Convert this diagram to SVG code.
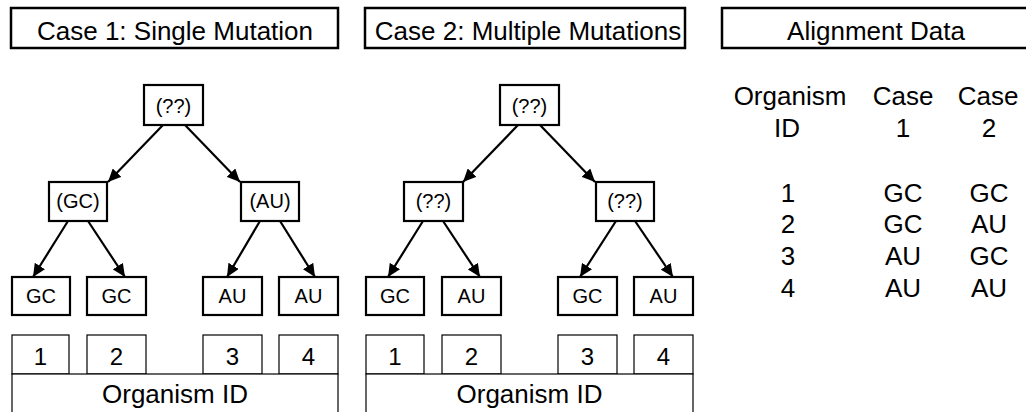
<svg xmlns="http://www.w3.org/2000/svg" width="1026" height="412" viewBox="0 0 1026 412">
<style>
text{font-family:"Liberation Sans",Arial,sans-serif;fill:#000;text-anchor:middle}
.hdr{fill:#fff;stroke:#000;stroke-width:2.5}
.nd{fill:#fff;stroke:#000;stroke-width:2.2}
.num{fill:#fff;stroke:#000;stroke-width:1.2}
.t26{font-size:26px}
.t20{font-size:20px}
.t24{font-size:24px}
.edge{stroke:#000;stroke-width:2.2;fill:none;marker-end:url(#ah)}
</style>
<defs>
<marker id="ah" markerUnits="userSpaceOnUse" markerWidth="14" markerHeight="12" refX="13" refY="6" orient="auto">
<path d="M0,0 L13,6 L0,12 Z" fill="#000"/>
</marker>
</defs>
<rect width="1026" height="412" fill="#fff"/>

<g id="header1"><rect class="hdr" x="11" y="8" width="327" height="40"/><text class="t26" x="175" y="40">Case 1: Single Mutation</text></g>
<g id="header2"><rect class="hdr" x="365" y="8" width="320" height="40"/><text class="t26" x="528" y="40">Case 2: Multiple Mutations</text></g>
<g id="header3"><rect class="hdr" x="722" y="8" width="320" height="40"/><text class="t26" x="876" y="40">Alignment Data</text></g>

<g id="connectors">
<line class="edge" x1="163" y1="125" x2="108" y2="182"/>
<line class="edge" x1="185" y1="125" x2="240" y2="182"/>
<line class="edge" x1="68" y1="221" x2="33" y2="277"/>
<line class="edge" x1="88" y1="221" x2="125" y2="277"/>
<line class="edge" x1="260" y1="221" x2="227" y2="277"/>
<line class="edge" x1="280" y1="221" x2="315" y2="277"/>
<line class="edge" x1="518" y1="125" x2="463" y2="182"/>
<line class="edge" x1="540" y1="125" x2="595" y2="182"/>
<line class="edge" x1="423" y1="221" x2="388" y2="277"/>
<line class="edge" x1="443" y1="221" x2="480" y2="277"/>
<line class="edge" x1="616" y1="221" x2="580" y2="277"/>
<line class="edge" x1="635" y1="221" x2="673" y2="277"/>
</g>

<g id="t1-root"><rect class="nd" x="144" y="85" width="59" height="40"/><text class="t20" x="173.5" y="113">(??)</text></g>
<g id="t1-gc"><rect class="nd" x="49" y="182" width="58" height="39"/><text class="t20" x="78" y="208">(GC)</text></g>
<g id="t1-au"><rect class="nd" x="241" y="182" width="58" height="39"/><text class="t20" x="270" y="208">(AU)</text></g>
<g id="t1-leaf1"><rect class="nd" x="12" y="277" width="58" height="38"/><text class="t20" x="41" y="303">GC</text></g>
<g id="t1-leaf2"><rect class="nd" x="87" y="277" width="59" height="38"/><text class="t20" x="116.5" y="303">GC</text></g>
<g id="t1-leaf3"><rect class="nd" x="203" y="277" width="59" height="38"/><text class="t20" x="232.5" y="303">AU</text></g>
<g id="t1-leaf4"><rect class="nd" x="279" y="277" width="59" height="38"/><text class="t20" x="308.5" y="303">AU</text></g>
<g id="t1-ids">
<rect class="num" x="12" y="335" width="57" height="39"/><text class="t24" x="40.5" y="365">1</text>
<rect class="num" x="87" y="335" width="59" height="39"/><text class="t24" x="116.5" y="365">2</text>
<rect class="num" x="203" y="335" width="59" height="39"/><text class="t24" x="232.5" y="365">3</text>
<rect class="num" x="279" y="335" width="59" height="39"/><text class="t24" x="308.5" y="365">4</text>
<rect class="num" x="12" y="374" width="326" height="50"/><text class="t26" x="175" y="403">Organism ID</text>
</g>

<g id="t2-root"><rect class="nd" x="500" y="85" width="59" height="40"/><text class="t20" x="529.5" y="113">(??)</text></g>
<g id="t2-left"><rect class="nd" x="404" y="182" width="59" height="39"/><text class="t20" x="433.5" y="208">(??)</text></g>
<g id="t2-right"><rect class="nd" x="596" y="182" width="58" height="39"/><text class="t20" x="625" y="208">(??)</text></g>
<g id="t2-leaf1"><rect class="nd" x="366" y="277" width="58" height="38"/><text class="t20" x="395" y="303">GC</text></g>
<g id="t2-leaf2"><rect class="nd" x="442" y="277" width="59" height="38"/><text class="t20" x="471.5" y="303">AU</text></g>
<g id="t2-leaf3"><rect class="nd" x="558" y="277" width="59" height="38"/><text class="t20" x="587.5" y="303">GC</text></g>
<g id="t2-leaf4"><rect class="nd" x="634" y="277" width="59" height="38"/><text class="t20" x="663.5" y="303">AU</text></g>
<g id="t2-ids">
<rect class="num" x="366" y="335" width="58" height="39"/><text class="t24" x="395" y="365">1</text>
<rect class="num" x="442" y="335" width="59" height="39"/><text class="t24" x="471.5" y="365">2</text>
<rect class="num" x="558" y="335" width="59" height="39"/><text class="t24" x="587.5" y="365">3</text>
<rect class="num" x="634" y="335" width="59" height="39"/><text class="t24" x="663.5" y="365">4</text>
<rect class="num" x="366" y="374" width="327" height="50"/><text class="t26" x="529.5" y="403">Organism ID</text>
</g>

<g id="alignment-table" class="t24">
<text class="t26" x="790" y="105">Organism</text>
<text class="t26" x="787" y="137">ID</text>
<text class="t26" x="903" y="105">Case</text>
<text class="t26" x="903" y="137">1</text>
<text class="t26" x="988" y="105">Case</text>
<text class="t26" x="989" y="137">2</text>
<text class="t26" x="788" y="202">1</text><text class="t26" x="903" y="202">GC</text><text class="t26" x="989" y="202">GC</text>
<text class="t26" x="788" y="233">2</text><text class="t26" x="903" y="233">GC</text><text class="t26" x="989" y="233">AU</text>
<text class="t26" x="788" y="265">3</text><text class="t26" x="903" y="265">AU</text><text class="t26" x="989" y="265">GC</text>
<text class="t26" x="788" y="297">4</text><text class="t26" x="903" y="297">AU</text><text class="t26" x="989" y="297">AU</text>
</g>
</svg>
